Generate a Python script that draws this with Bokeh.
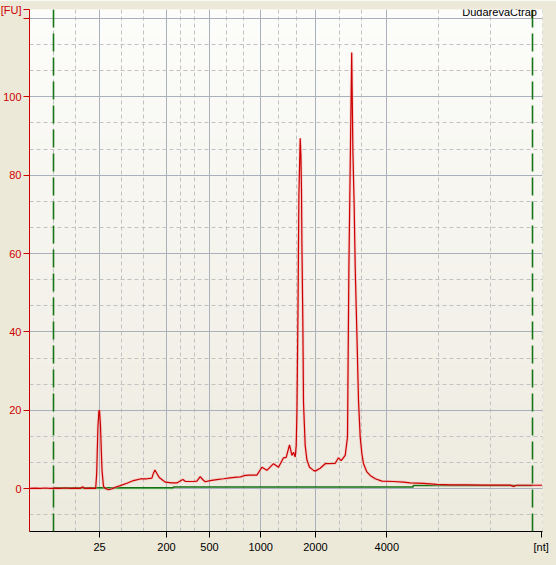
import numpy as np
from bokeh.plotting import figure
from bokeh.models import FixedTicker, Span, Label
from bokeh.embed import file_html
from bokeh.resources import INLINE

# ---------------- data ----------------
# migration time [s] and fluorescence [FU]
time_s = [16.93, 17.5, 18.0, 18.5, 19.0, 19.5, 20.0, 20.5, 21.0, 21.5,
          22.0, 22.27, 22.4, 23.0, 23.55, 23.65, 23.77, 23.87, 23.93, 24.02,
          24.1, 24.18, 24.33, 24.5, 24.83, 25.2, 25.5, 26.0, 26.67, 27.33,
          28.0, 28.67, 29.17, 29.3, 29.47, 29.67, 29.9, 30.2, 30.5, 31.17,
          31.67, 32.0, 32.27, 32.5, 33.33, 33.67, 34.0, 34.27, 34.5, 35.0,
          35.67, 36.33, 37.0, 37.67, 38.0, 38.5, 39.0, 39.67, 40.17, 40.67,
          41.33, 41.83, 42.33, 42.6, 42.93, 43.17, 43.33, 43.5, 43.6, 43.67,
          43.77, 43.87, 44.0, 44.07, 44.13, 44.17, 44.27, 44.33, 44.5, 44.67,
          44.93, 45.33, 45.5, 46.0, 46.5, 47.5, 47.83, 48.1, 48.5, 48.73,
          48.87, 49.0, 49.15, 49.27, 49.4, 49.5, 49.67, 49.83, 50.0, 50.17,
          50.33, 50.67, 51.0, 51.5, 52.17, 53.33, 54.33, 55.0, 56.33, 57.0,
          57.67, 59.0, 60.67, 62.33, 65.0, 65.33, 65.67, 68.2]
fluor_fu = [0.1, 0.15, 0.1, 0.2, 0.1, 0.15, 0.1, 0.2, 0.1, 0.15,
            0.1, 0.5, 0.1, 0.15, 0.1, 4.0, 15.5, 19.9, 20.0, 16.5,
            10.6, 4.7, 0.6, 0.1, -0.25, 0.0, 0.4, 0.8, 1.4, 2.1,
            2.5, 2.55, 2.7, 3.8, 4.8, 3.9, 2.9, 2.3, 1.7, 1.5,
            1.5, 2.0, 2.35, 1.9, 1.85, 1.95, 3.1, 2.3, 1.8, 2.1,
            2.35, 2.55, 2.8, 2.95, 3.0, 3.4, 3.5, 3.5, 5.5, 4.7,
            6.4, 5.5, 7.9, 8.0, 11.2, 8.5, 9.3, 8.1, 11.0, 19.0,
            43.0, 75.0, 89.4, 85.0, 76.0, 62.5, 41.0, 22.0, 11.0, 7.4,
            5.5, 4.7, 4.5, 5.25, 6.4, 6.5, 7.9, 7.2, 8.5, 13.2,
            56.5, 82.0, 111.3, 86.0, 71.8, 56.5, 39.5, 22.5, 13.2, 8.9,
            6.4, 4.3, 3.4, 2.55, 1.95, 1.85, 1.7, 1.5, 1.4, 1.27,
            1.1, 1.0, 1.0, 0.93, 0.93, 0.6, 0.9, 0.9]
assert len(time_s) == len(fluor_fu)

# ladder sizes [nt] and their migration times [s]
ladder_nt = [25, 200, 500, 1000, 2000, 4000]
ladder_time = [23.93, 30.63, 34.93, 40.05, 45.53, 52.66]
minor_time = [19.34, 21.57, 26.13, 28.37, 32.07, 33.47, 36.67, 38.37,
              41.87, 43.67, 47.9, 50.17, 57.87, 63.07, 68.22]
unit_x_label = "[nt]"
unit_x_time = 68.1

fu_major = [0, 20, 40, 60, 80, 100, 120]
fu_minor = [-6.67, 6.67, 13.33, 26.67, 33.33, 46.67, 53.33, 66.67, 73.33,
            86.67, 93.33, 106.67, 113.33]
unit_y_label = "[FU]"
unit_y_value = 122.2

# region markers (lower / upper) and baselines
marker_time = [19.33, 67.23]
baseline_time = [19.33, 31.3, 31.3, 55.3, 55.3, 67.23]
baseline_fu = [0.25, 0.25, 0.45, 0.45, 0.85, 0.85]
baseline2_time = [19.33, 31.3]
baseline2_fu = [0.0, 0.0]

sample_name = "DudarevaCtrap"

X0, X1 = 16.93, 68.23
Y0, Y1 = -10.9, 122.27

RED = "#CC0000"
FONT = "Liberation Sans"

# left border is wider than needed; the figure is pulled left so the
# plotting frame starts at the same place as in the original screenshot
p = figure(width=563, height=565, x_range=(X0, X1), y_range=(Y0, Y1),
           output_backend="svg", toolbar_location=None,
           min_border_left=36, min_border_right=14, min_border_top=9,
           min_border_bottom=34)
p.styles = {"margin-left": "-7px"}

p.border_fill_color = "#ECE9D8"
p.background_fill_color = "#F4F3EC"
p.outline_line_color = None

# vertical gradient for the plotting area
N = 128
img = np.empty((N, 1), dtype=np.uint32)
view = img.view(dtype=np.uint8).reshape((N, 1, 4))
top = np.array([253, 253, 251])
bot = np.array([237, 234, 222])
for i in range(N):
    f = i / (N - 1)
    c = bot + (top - bot) * f
    view[i, 0, 0:3] = c.astype(np.uint8)
    view[i, 0, 3] = 255
p.image_rgba(image=[img], x=X0, y=Y0, dw=X1 - X0, dh=Y1 - Y0, level="image")

# axes (axis tickers also carry the unit labels at the ends)
xt_axis = FixedTicker(ticks=ladder_time + [unit_x_time], minor_ticks=[])
yt_axis = FixedTicker(ticks=fu_major + [unit_y_value], minor_ticks=[])
xt_grid = FixedTicker(ticks=ladder_time, minor_ticks=minor_time)
yt_grid = FixedTicker(ticks=fu_major, minor_ticks=fu_minor)
p.xaxis.ticker = xt_axis
p.yaxis.ticker = yt_axis
xo = {t: str(n) for t, n in zip(ladder_time, ladder_nt)}
xo[unit_x_time] = unit_x_label
p.xaxis.major_label_overrides = xo
p.yaxis.major_label_overrides = {120: "", unit_y_value: unit_y_label}

for ax, col in ((p.xaxis, "black"), (p.yaxis, RED)):
    ax.axis_line_color = col
    ax.major_tick_line_color = col
    ax.major_label_text_color = col
    ax.major_tick_out = 6
    ax.major_tick_in = 0
    ax.minor_tick_line_color = None
    ax.major_label_standoff = 3
    ax.major_label_text_font = FONT
    ax.major_label_text_font_size = "11px"
p.yaxis.major_label_standoff = 2

p.xgrid.ticker = xt_grid
p.ygrid.ticker = yt_grid
for g in (p.xgrid, p.ygrid):
    g.grid_line_color = "#AAB1BD"
    g.grid_line_width = 1
    g.minor_grid_line_color = "#C2C2C2"
    g.minor_grid_line_dash = "4 3"
    g.minor_grid_line_width = 1

# markers
for t in marker_time:
    p.add_layout(Span(location=t, dimension="height", line_color="#167516",
                      line_width=1.6, line_dash="18 6"))

# baselines
p.line(baseline2_time, baseline2_fu, line_color="#8FDC8F", line_width=1)
p.line(baseline_time, baseline_fu, line_color="#137313", line_width=1.5)

# trace with soft halo
p.line(time_s, fluor_fu, line_color="#F4A8A8", line_width=3, line_alpha=0.45)
p.line(time_s, fluor_fu, line_color=RED, line_width=1.2)

# sample name
p.add_layout(Label(x=67.67, y=121.7, text=sample_name, text_align="right",
                   text_baseline="alphabetic", text_font=FONT,
                   text_font_size="11px", text_color="black"))

open("out.html", "w").write(file_html(p, INLINE))
